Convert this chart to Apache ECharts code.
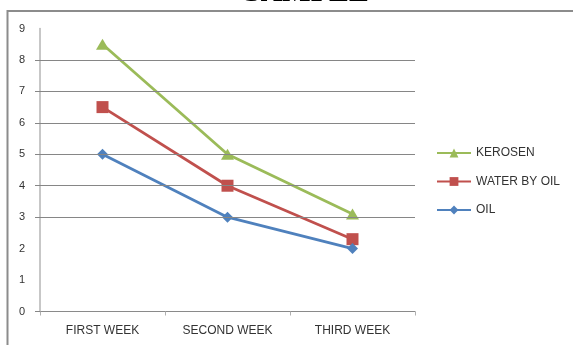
<!DOCTYPE html>
<html>
<head>
<meta charset="utf-8">
<script src="https://cdn.jsdelivr.net/npm/echarts@6/dist/echarts.min.js"></script>
<style>
html,body{margin:0;padding:0;background:#fff;}
#c{width:573px;height:345px;}
</style>
</head>
<body>
<div id="c"></div>
<script>
const categories = ['FIRST WEEK', 'SECOND WEEK', 'THIRD WEEK'];
const kerosen = [8.5, 5, 3.1];
const waterByOil = [6.5, 4, 2.3];
const oil = [5, 3, 2];
const gridValues = [0, 3, 4, 5, 6, 7, 8];
const gridLineValues = [3, 4, 5, 6, 7, 8];
const titleText = 'SAMPLE';

const chart = echarts.init(document.getElementById('c'));
const font = 'Liberation Sans';
chart.setOption({
  animation: false,
  backgroundColor: '#fff',
  graphic: [
    {type: 'rect', shape: {x: 7.5, y: 11, width: 700, height: 400}, style: {fill: 'none', stroke: '#8c8c8c', lineWidth: 2}, z: 100},
    {type: 'text', left: 244, top: -22, style: {text: titleText, font: 'bold 30px "Liberation Serif"', fill: '#000'}, z: 100}
  ],
  grid: {left: 40, top: 28.5, right: 158, bottom: 33.5, containLabel: false},
  legend: {
    orient: 'vertical', left: 431, top: 142, itemWidth: 34, itemHeight: 11, itemGap: 16.5,
    textStyle: {fontFamily: font, fontSize: 12, color: '#333'},
    data: ['KEROSEN', 'WATER BY OIL', 'OIL']
  },
  xAxis: {
    type: 'category', data: categories, boundaryGap: true,
    axisLine: {lineStyle: {color: '#8a8a8a', width: 1}},
    axisTick: {show: true, length: 4, alignWithLabel: false, lineStyle: {color: '#b0b0b0'}},
    axisLabel: {fontFamily: font, fontSize: 12, color: '#333', margin: 13}
  },
  yAxis: {
    type: 'value', min: 0, max: 9, interval: 1,
    axisLine: {show: true, lineStyle: {color: '#b4b4b4', width: 1.5}},
    axisTick: {show: true, length: 5, customValues: gridValues, lineStyle: {color: '#868686'}},
    splitLine: {show: false},
    axisLabel: {fontFamily: font, fontSize: 11, color: '#333', margin: 15}
  },
  series: [
    {name: 'KEROSEN', type: 'line', data: kerosen, symbol: 'triangle', symbolSize: [13, 11], color: '#9BBB59', lineStyle: {width: 2.8}, z: 3,
     markLine: {silent: true, symbol: 'none', label: {show: false}, lineStyle: {color: '#868686', width: 1, type: 'solid'}, emphasis: {disabled: true},
       data: gridLineValues.map(v => ({yAxis: v}))}},
    {name: 'WATER BY OIL', type: 'line', data: waterByOil, symbol: 'rect', symbolSize: 12, color: '#C0504D', lineStyle: {width: 2.8}, z: 3},
    {name: 'OIL', type: 'line', data: oil, symbol: 'diamond', symbolSize: [11, 11], color: '#4F81BD', lineStyle: {width: 2.8}, z: 3}
  ]
});
</script>
</body>
</html>
